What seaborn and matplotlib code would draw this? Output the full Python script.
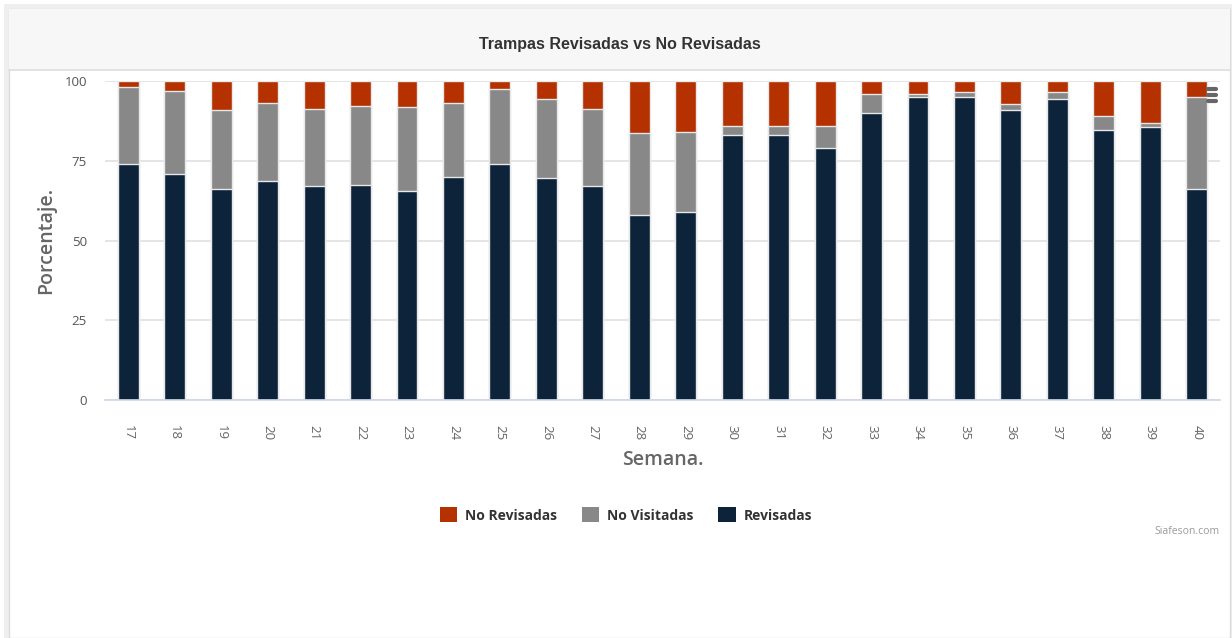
import numpy as np
import pandas as pd
import matplotlib
matplotlib.use("Agg")
import matplotlib.pyplot as plt
from matplotlib.patches import Rectangle, Patch
from matplotlib.lines import Line2D
import seaborn as sns

# ---- data ----
weeks = ["17", "18", "19", "20", "21", "22", "23", "24", "25", "26", "27", "28",
         "29", "30", "31", "32", "33", "34", "35", "36", "37", "38", "39", "40"]
revisadas = [74, 71, 66, 68.5, 67, 67.5, 65.5, 70, 74, 69.5, 67, 58,
             59, 83, 83, 79, 90, 95, 95, 91, 94.5, 84.5, 85.5, 66]
no_visitadas = [24, 25.8, 25, 24.5, 24.2, 24.8, 26.2, 23, 23.5, 25, 24.2, 25.6,
                25, 3, 3, 7, 6, 0.8, 1.5, 1.8, 2, 4.5, 1.2, 29]
no_revisadas = [2, 3.2, 9, 7, 8.8, 7.7, 8.3, 7, 2.5, 5.5, 8.8, 16.4,
                16, 14, 14, 14, 4, 4.2, 3.5, 7.2, 3.5, 11, 13.3, 5]
series_names = ["No Revisadas", "No Visitadas", "Revisadas"]
yticks = [0, 25, 50, 75, 100]

C_NR = "#b53100"
C_NV = "#888888"
C_R = "#0d233a"

df = pd.DataFrame({"semana": weeks, "rev": revisadas, "nv": no_visitadas, "nr": no_revisadas})
df["top_nv"] = df["rev"] + df["nv"]
df["top_nr"] = df["top_nv"] + df["nr"]

sns.set_theme(style="white")
plt.rcParams["font.family"] = ["Open Sans", "DejaVu Sans"]

W, H = 1232, 638
fig = plt.figure(figsize=(W / 100, H / 100), dpi=100)
fig.patch.set_facecolor("white")

def px(x, y, w, h):
    return [x / W, 1 - (y + h) / H, w / W, h / H]

# card decorations
def frect(x, y, w, h, **kw):
    fig.patches.append(Rectangle((x / W, 1 - (y + h) / H), w / W, h / H,
                                 transform=fig.transFigure, figure=fig, **kw))

frect(4, 4, W - 4, H - 4, facecolor="#efefef", edgecolor="none", zorder=-3)
frect(9, 9, 1221, H - 9, facecolor="white", edgecolor="#dcdcdc", linewidth=1, zorder=-2)
frect(9, 9, 1221, 60, facecolor="#f7f7f7", edgecolor="none", zorder=-1)
fig.add_artist(Line2D([9 / W, 1230 / W], [1 - 69.5 / H] * 2, color="#dddddd", lw=1.2,
                      transform=fig.transFigure, zorder=-1))

fig.text(620 / W, 1 - 45 / H, "Trampas Revisadas vs No Revisadas", ha="center", va="center",
         fontsize=11.5, color="#333333", family=["Liberation Sans", "DejaVu Sans"],
         fontweight="bold")

ax = fig.add_axes(px(105, 81, 1115, 319))
ax.set_facecolor("none")
ax.set_zorder(1)

common = dict(x="semana", order=weeks, width=0.45, saturation=1,
              edgecolor="#e8e8e8", linewidth=1, ax=ax, zorder=3)
sns.barplot(data=df, y="top_nr", color=C_NR, **common)
sns.barplot(data=df, y="top_nv", color=C_NV, **common)
sns.barplot(data=df, y="rev", color=C_R, **common)

ax.set_xlim(-0.5, len(weeks) - 0.5)
ax.set_ylim(0, 100)
ax.set_yticks(yticks)
ax.grid(axis="y", color="#e0e0e0", linewidth=1.2, zorder=0)
ax.grid(axis="x", visible=False)
ax.set_axisbelow(True)
for s in ["top", "right", "left"]:
    ax.spines[s].set_visible(False)
ax.spines["bottom"].set_color("#ccd6eb")
ax.spines["bottom"].set_linewidth(1.2)
ax.spines["bottom"].set_zorder(4)

ax.set_xticks(np.arange(-0.5, len(weeks)), minor=True)
ax.tick_params(axis="x", which="minor", length=10, color="#ccd6eb", width=1)
ax.tick_params(axis="x", which="major", length=0, pad=18, labelsize=9.5, labelcolor="#666666",
               labelrotation=270)
ax.tick_params(axis="y", length=0, pad=13, labelsize=9.5, labelcolor="#555555")
for lab in ax.get_xticklabels():
    lab.set_va("top")
    lab.set_ha("center")

ax.set_xlabel("Semana.", fontsize=14, color="#666666", fontweight="semibold", labelpad=7)
ax.set_ylabel("Porcentaje.", fontsize=14, color="#666666", fontweight="semibold", labelpad=6)

handles = [Patch(facecolor=C_NR, edgecolor="none", label=series_names[0]),
           Patch(facecolor=C_NV, edgecolor="none", label=series_names[1]),
           Patch(facecolor=C_R, edgecolor="none", label=series_names[2])]
leg = fig.legend(handles=handles, loc="center", bbox_to_anchor=(626 / W, 1 - 515 / H), ncol=3,
                 frameon=False, handlelength=1.25, handleheight=1.25, handletextpad=0.55,
                 columnspacing=1.8, prop={"weight": "bold", "size": 10})
for t in leg.get_texts():
    t.set_color("#333333")

fig.text(1220 / W, 1 - 532 / H, "Siafeson.com", ha="right", va="center", fontsize=7.5, color="#999999")

# context menu icon
for yy in (89, 95, 101):
    fig.add_artist(Line2D([1208 / W, 1216 / W], [1 - yy / H] * 2, color="#666666", lw=3,
                          solid_capstyle="round", transform=fig.transFigure, zorder=5))

fig.savefig("out.png", dpi=100)
